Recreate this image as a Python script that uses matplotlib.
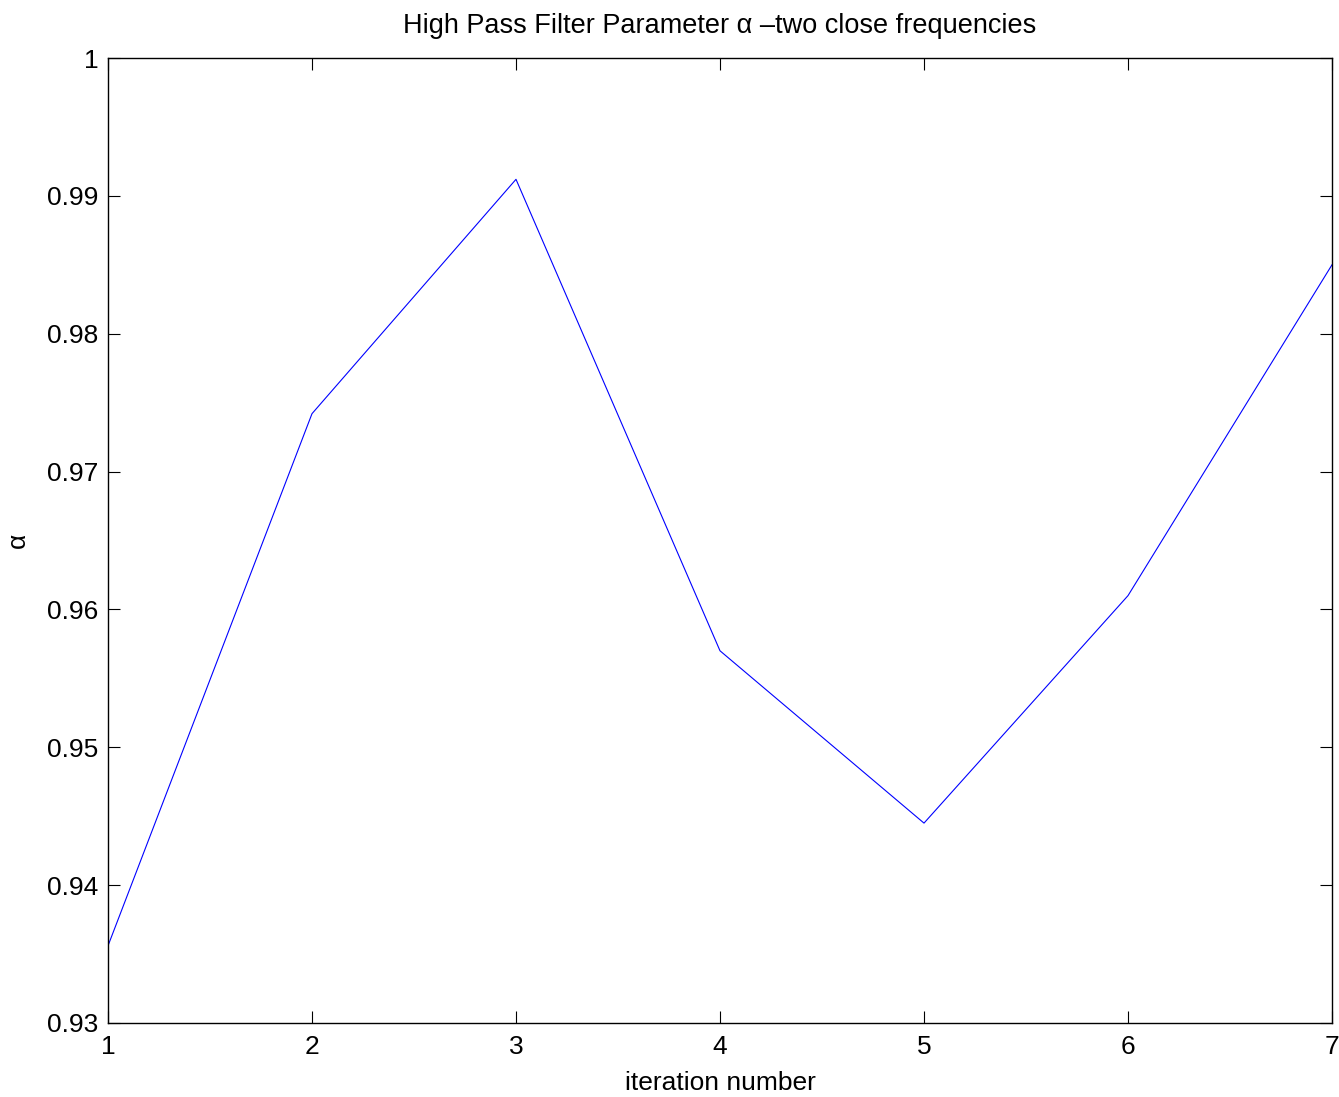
import matplotlib
matplotlib.use("Agg")
import matplotlib.pyplot as plt

iterations = [1, 2, 3, 4, 5, 6, 7]
alpha_values = [0.9356, 0.9742, 0.9912, 0.9570, 0.9445, 0.9610, 0.9850]
x_ticks = [1, 2, 3, 4, 5, 6, 7]
y_ticks = [0.93, 0.94, 0.95, 0.96, 0.97, 0.98, 0.99, 1.0]
y_tick_labels = ["0.93", "0.94", "0.95", "0.96", "0.97", "0.98", "0.99", "1"]

plt.rcParams['font.family'] = ['Liberation Sans', 'DejaVu Sans']

fig = plt.figure(figsize=(13.39, 10.97), dpi=100)
ax = fig.add_axes([108/1339, (1097-1023)/1097, (1332-108)/1339, (1023-58)/1097])
ax.plot(iterations, alpha_values, color='#0000ff', linewidth=0.8)
ax.set_xlim(1, 7)
ax.set_ylim(0.93, 1.0)
ax.set_xticks(x_ticks)
ax.set_yticks(y_ticks)
ax.set_yticklabels(y_tick_labels)
ax.tick_params(direction='in', length=8.5, width=0.8, labelsize=19,
               top=True, right=True, pad=7)
ax.tick_params(axis='x', pad=9)
for s in ax.spines.values():
    s.set_linewidth(1.0)
ax.set_title("High Pass Filter Parameter α –two close frequencies", fontsize=19.5, pad=18)
ax.set_xlabel("iteration number", fontsize=19, labelpad=8)
ax.set_ylabel("α", fontsize=19, labelpad=12)
fig.savefig("out.png", dpi=100)
